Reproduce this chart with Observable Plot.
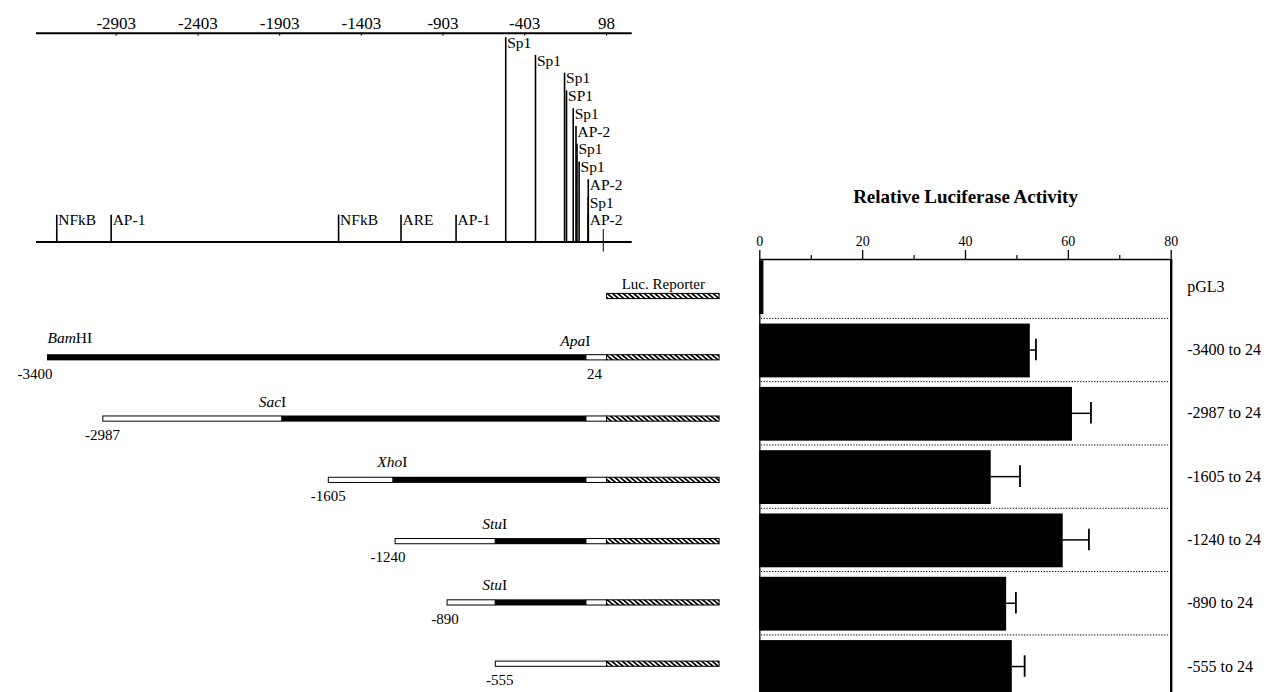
<!DOCTYPE html>
<html><head><meta charset="utf-8">
<script src="https://cdn.jsdelivr.net/npm/d3@7"></script>
<script src="https://cdn.jsdelivr.net/npm/@observablehq/plot@0.6"></script>
<style>
body{margin:0;background:#fff;}
#wrap{position:relative;width:1268px;height:692px;overflow:hidden;background:#fff;}
#wrap svg{position:absolute;overflow:visible;}
</style></head><body><div id="wrap"></div>
<script>
// ---------------- data ----------------
// promoter map (bp)
const mapTicks = [-2903, -2403, -1903, -1403, -903, -403, 98];
const siteNames = ["NFkB","AP-1","NFkB","ARE","AP-1","Sp1","Sp1","Sp1","SP1","Sp1","AP-2","Sp1","Sp1","AP-2","Sp1","AP-2"];
const sitePositions = [-3267,-2934,-1542,-1160,-823,-519,-337,-159,-147,-106,-89,-83,-70,-14,-14,-14];
const siteLevels = [1,1,1,1,1,11,10,9,8,7,6,5,4,3,2,1];
const startSite = 78;

// deletion constructs (bp)
const constructLabels = [-3400, -2987, -1605, -1240, -890, -555];
const constructStarts = [-3324, -2982, -1602, -1193, -875, -580];
const enzymeNames = ["BamHI", "SacI", "XhoI", "StuI", "StuI", null];
const enzymeSites = [-3324, -1887, -1207, -581, -581, null];
const apaName = "ApaI";
const apaSite = -25;
const promoterEnd = 24;
const lucStart = 101, lucEnd = 790;
const lucLabel = "Luc. Reporter";

// luciferase activity
const barNames = ["pGL3","-3400 to 24","-2987 to 24","-1605 to 24","-1240 to 24","-890 to 24","-555 to 24"];
const activity = [0.8, 52.6, 60.8, 45.0, 59.0, 48.0, 49.1];
const activityUpper = [null, 53.7, 64.4, 50.6, 64.0, 49.8, 51.5];
const activityTicks = [0, 20, 40, 60, 80];
const activityMinor = [10, 30, 50, 70];
const chartTitle = "Relative Luciferase Activity";

// ---------------- layout ----------------
const FONT = "'Liberation Serif', 'Times New Roman', serif";
const wrap = document.getElementById("wrap");
const xBp = {domain: [-3391, 255], range: [36, 631.7]};
const style = {fontFamily: FONT, fontSize: "15px", color: "black", background: "transparent", overflow: "visible"};

// ---- promoter element map ----
const sites = siteNames.map((n, i) => ({name: n, pos: sitePositions[i], level: siteLevels[i]}));
const mapTop = 11.76;
const L1 = Plot.plot({
  width: 740, height: 260, style,
  x: {...xBp, axis: null},
  y: {domain: [0, mapTop], range: [241.5, 32.7], axis: null},
  marks: [
    Plot.ruleY([mapTop], {x1: xBp.domain[0], x2: xBp.domain[1], strokeWidth: 2}),
    Plot.ruleY([0], {x1: xBp.domain[0], x2: xBp.domain[1], strokeWidth: 2}),
    Plot.ruleX(mapTicks, {x: d => d, y1: mapTop, y2: mapTop - 0.16, strokeWidth: 1.2}),
    Plot.text(mapTicks, {x: d => d, y: mapTop, dy: -9.5, text: d => String(d), fontSize: 17}),
    Plot.ruleX(sites, {x: "pos", y1: 0, y2: d => d.level + 0.51, strokeWidth: 1.6}),
    Plot.text(sites, {x: "pos", y: d => d.level + 0.21, text: "name", textAnchor: "start", dx: 1.5, fontSize: 15.5}),
    Plot.ruleX([startSite], {x: d => d, y1: -0.57, y2: 0.7, strokeWidth: 1})
  ]
});
L1.style.left = "0px"; L1.style.top = "0px";
wrap.appendChild(L1);

// ---- construct diagrams ----
const segments = [{row: 0, kind: "luc", x1: lucStart, x2: lucEnd}];
const enzymes = [];
const posLabels = [];
constructStarts.forEach((s, i) => {
  const row = i + 1;
  const site = enzymeSites[i];
  if (site !== null) {
    if (site > s) segments.push({row, kind: "white", x1: s, x2: site});
    segments.push({row, kind: "black", x1: site, x2: apaSite});
    segments.push({row, kind: "white", x1: apaSite, x2: lucStart});
    enzymes.push({row, name: enzymeNames[i], site, anchor: i === 0 ? "start" : i === 1 ? "end" : "middle"});
  } else {
    segments.push({row, kind: "white", x1: s, x2: lucStart});
  }
  segments.push({row, kind: "luc", x1: lucStart, x2: lucEnd});
  posLabels.push({row, pos: constructLabels[i], text: String(constructLabels[i])});
});
enzymes.push({row: 1, name: apaName, site: apaSite, anchor: "end"});
posLabels.push({row: 1, pos: promoterEnd, text: String(promoterEnd)});

const hh = 0.05;
const L2 = Plot.plot({
  width: 740, height: 432, style,
  x: {...xBp, axis: null},
  y: {domain: [0, 6], range: [36, 403.7], axis: null},
  marks: [
    Plot.rect(segments.filter(d => d.kind === "black"), {x1: "x1", x2: "x2", y1: d => d.row - hh, y2: d => d.row + hh, fill: "black"}),
    Plot.rect(segments.filter(d => d.kind === "white"), {x1: "x1", x2: "x2", y1: d => d.row - hh * 0.85, y2: d => d.row + hh * 0.85, fill: "white", stroke: "black", strokeWidth: 1}),
    Plot.rect(segments.filter(d => d.kind === "luc"), {x1: "x1", x2: "x2", y1: d => d.row - hh * 0.85, y2: d => d.row + hh * 0.85, fill: "url(#hatch)", stroke: "black", strokeWidth: 1}),
    Plot.text([lucLabel], {x: (lucStart + lucEnd) / 2, y: 0, dy: -12, text: d => d, fontSize: 15}),
    Plot.text(enzymes.filter(d => d.anchor === "start"), {x: "site", y: "row", dy: -20, text: "name", textAnchor: "start", fontSize: 15.5}),
    Plot.text(enzymes.filter(d => d.anchor === "end"), {x: "site", y: "row", dy: -17, dx: 4, text: "name", textAnchor: "end", fontSize: 15.5}),
    Plot.text(enzymes.filter(d => d.anchor === "middle"), {x: "site", y: "row", dy: -18, dx: -1, text: "name", textAnchor: "middle", fontSize: 15.5}),
    Plot.text(posLabels, {x: "pos", y: "row", dy: 16, text: "text", textAnchor: "middle", fontSize: 15})
  ]
});
L2.style.left = "0px"; L2.style.top = "260px";
// hatch pattern for the luciferase reporter
const defs = d3.select(L2).insert("defs", ":first-child");
const pat = defs.append("pattern").attr("id", "hatch").attr("patternUnits", "userSpaceOnUse")
  .attr("width", 3.4).attr("height", 3.4).attr("patternTransform", "rotate(-50)");
pat.append("rect").attr("width", 3.4).attr("height", 3.4).attr("fill", "white");
pat.append("rect").attr("width", 1.7).attr("height", 3.4).attr("fill", "black");
// italic enzyme names (genus part)
const enzymeSet = new Set(enzymes.map(d => d.name));
d3.select(L2).selectAll("text").each(function () {
  const t = this.textContent;
  if (!enzymeSet.has(t)) return;
  const m = t.match(/^([A-Z][a-z]+)(.*)$/);
  if (!m) return;
  const sel = d3.select(this);
  sel.text(null);
  sel.append("tspan").attr("font-style", "italic").style("font-style", "italic").text(m[1]);
  sel.append("tspan").text(m[2]);
});
wrap.appendChild(L2);

// ---- luciferase bar chart ----
const rows = barNames.map((n, i) => ({name: n, i, v: activity[i], up: activityUpper[i]}));
const yTop = 0.07;
const px = 1 / 63.3;
const R = Plot.plot({
  width: 528, height: 700, style,
  x: {domain: [0, 80], range: [19.3, 430.7], axis: null},
  y: {domain: [yTop, 7], range: [259, 697.7], axis: null},
  marks: [
    Plot.rect(rows, {x1: 0, x2: "v", y1: d => d.i + 0.09, y2: d => d.i + 0.94, fill: "black"}),
    Plot.ruleY([1, 2, 3, 4, 5, 6], {y: d => d, x1: 0.3, x2: 79.6, strokeWidth: 1, strokeDasharray: "1.3,1.5"}),
    Plot.ruleY(rows.filter(d => d.up !== null), {y: d => d.i + 0.5, x1: "v", x2: "up", strokeWidth: 1.5}),
    Plot.ruleX(rows.filter(d => d.up !== null), {x: "up", y1: d => d.i + 0.33, y2: d => d.i + 0.67, strokeWidth: 1.8}),
    Plot.ruleY([yTop], {y: d => d, x1: 0, x2: 80, strokeWidth: 1.6}),
    Plot.ruleX([80], {x: d => d, y1: yTop, y2: 7, strokeWidth: 2.4}),
    Plot.ruleX([0], {x: d => d, y1: yTop, y2: 7, strokeWidth: 1.3}),
    Plot.ruleX(activityTicks, {x: d => d, y1: yTop - 9 * px, y2: yTop, strokeWidth: 1.3}),
    Plot.ruleX(activityMinor, {x: d => d, y1: yTop - 4 * px, y2: yTop, strokeWidth: 1.2}),
    Plot.text(activityTicks, {x: d => d, y: yTop, dy: -18, text: d => String(d), fontSize: 14}),
    Plot.text(rows, {x: 80, y: d => d.i + 0.5, text: "name", textAnchor: "start", dx: 16, fontSize: 16}),
    Plot.text([chartTitle], {x: 40, y: yTop, dy: -63, text: d => d, fontSize: 19, fontWeight: "bold"})
  ]
});
R.style.left = "740px"; R.style.top = "0px";
wrap.appendChild(R);
</script>
</body></html>
